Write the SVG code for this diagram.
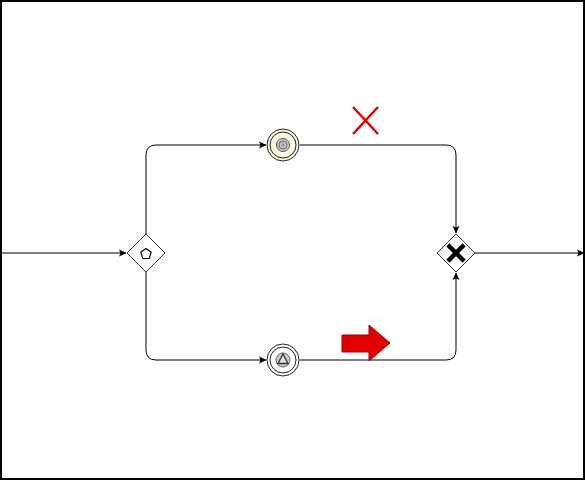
<svg xmlns="http://www.w3.org/2000/svg" width="585" height="480" viewBox="0 0 585 480">
<defs>
<marker id="arr" markerWidth="8" markerHeight="8" refX="7" refY="4" orient="auto" markerUnits="userSpaceOnUse">
<path d="M0,0.5 L7.5,4 L0,7.5 L1.5,4 Z" fill="#000"/>
</marker>
<radialGradient id="yel" cx="0.5" cy="0.5" r="0.5">
<stop offset="0" stop-color="#fefdf0"/>
<stop offset="1" stop-color="#f8f4d8"/>
</radialGradient>
</defs>
<style>
.flow{fill:none;stroke:#000;stroke-width:1;marker-end:url(#arr)}
.gw{fill:#fff;stroke:#333;stroke-width:1}
.ev{stroke:#222;stroke-width:1}
</style>
<rect x="1" y="1" width="583" height="478" fill="#fff" stroke="#000" stroke-width="2"/>
<g id="connectors">
<path class="flow" d="M0,253 H126"/>
<path class="flow" d="M146,234 V155 Q146,145 156,145 H266"/>
<path class="flow" d="M146,272 V350 Q146,360 156,360 H266"/>
<path class="flow" d="M300,145 H446 Q456,145 456,155 V233"/>
<path class="flow" d="M300,360 H446 Q456,360 456,350 V273"/>
<path class="flow" d="M475,253 H584"/>
</g>
<g id="gateway1">
<polygon class="gw" points="146,234 165,253 146,272 127,253"/>
<polygon points="146,248.5 151.2,252.3 149.2,258.5 142.8,258.5 140.8,252.3" fill="none" stroke="#000" stroke-width="1.2"/>
</g>
<g id="event1">
<circle class="ev" cx="283" cy="145" r="16" fill="url(#yel)"/>
<circle cx="283" cy="145" r="13" fill="none" stroke="#222" stroke-width="1"/>
<circle cx="283" cy="145" r="6.5" fill="#c8c8c8" stroke="#555" stroke-width="1"/>
<circle cx="283" cy="145" r="4" fill="none" stroke="#666" stroke-width="1"/>
<circle cx="283" cy="145" r="1.8" fill="#999"/>
</g>
<g id="event2">
<circle class="ev" cx="283" cy="360" r="16" fill="#fff"/>
<circle cx="283" cy="360" r="13" fill="none" stroke="#222" stroke-width="1"/>
<circle cx="283" cy="360" r="7" fill="#c8c8c8" stroke="#666" stroke-width="1"/>
<polygon points="283,354 288,363.5 278,363.5" fill="#e0e0e0" stroke="#333" stroke-width="1.3"/>
</g>
<g id="gateway2">
<polygon class="gw" points="456,234 475,253 456,272 437,253"/>
<path d="M449.5,246.5 L462.5,259.5 M462.5,246.5 L449.5,259.5" stroke="#000" stroke-width="4.5" stroke-linecap="square"/>
</g>
<g id="redX">
<path d="M353,107 L378,134 M378,107 L353,134" stroke="#e00000" stroke-width="2.5"/>
</g>
<g id="redArrow">
<polygon points="342,335 369,335 369,325 390,343 369,361 369,352 342,352" fill="#e00000" stroke="#990000" stroke-width="1"/>
</g>
</svg>
